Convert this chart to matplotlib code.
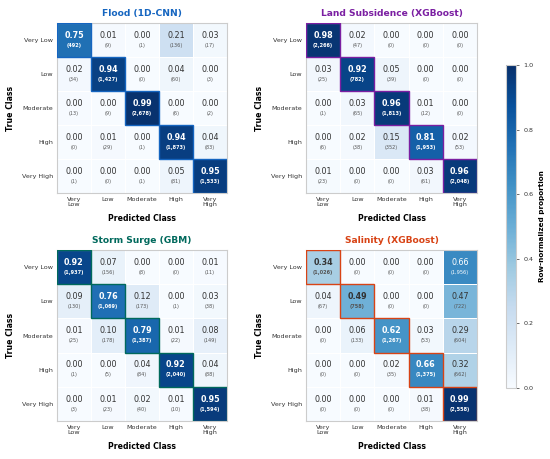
import numpy as np
import matplotlib
matplotlib.use("Agg")
import matplotlib.pyplot as plt
from matplotlib.patches import Rectangle

classes_y = ["Very Low", "Low", "Moderate", "High", "Very High"]
classes_x = ["Very\nLow", "Low", "Moderate", "High", "Very\nHigh"]

flood_counts = [[492, 9, 1, 136, 17],
                [34, 1427, 0, 60, 3],
                [13, 9, 2678, 6, 2],
                [0, 29, 1, 1873, 83],
                [1, 0, 1, 81, 1533]]
subsidence_counts = [[2266, 47, 0, 0, 0],
                     [25, 782, 39, 0, 0],
                     [1, 65, 1813, 12, 0],
                     [6, 38, 352, 1953, 53],
                     [23, 0, 0, 61, 2048]]
surge_counts = [[1937, 156, 8, 0, 11],
                [130, 1069, 173, 1, 38],
                [25, 178, 1387, 22, 149],
                [1, 5, 84, 2040, 88],
                [3, 23, 40, 10, 1594]]
salinity_counts = [[1026, 0, 0, 0, 1956],
                   [67, 758, 0, 0, 722],
                   [0, 133, 1267, 53, 604],
                   [0, 0, 35, 1375, 662],
                   [0, 0, 0, 38, 2558]]

titles = ["Flood (1D-CNN)", "Land Subsidence (XGBoost)",
          "Storm Surge (GBM)", "Salinity (XGBoost)"]
title_colors = ["#1565C0", "#7B1FA2", "#00695C", "#D84315"]
all_counts = [flood_counts, subsidence_counts, surge_counts, salinity_counts]

W, H = 550, 459
fig = plt.figure(figsize=(W / 100, H / 100), dpi=100)

# panel positions in pixels: left, top, width, height
panels = [(57, 23, 170, 170), (306, 23, 171, 170),
          (57, 250, 170, 171), (306, 250, 171, 171)]

cmap = plt.get_cmap("Blues")


def draw_cm(ax, counts, title, tcolor):
    counts = np.array(counts, dtype=float)
    props = counts / counts.sum(axis=1, keepdims=True)
    n = len(counts)
    im = ax.pcolormesh(np.arange(n + 1), np.arange(n + 1), props, cmap=cmap,
                       vmin=0, vmax=1, edgecolor="white", linewidth=0.4)
    ax.set_xlim(0, n)
    ax.set_ylim(n, 0)
    for i in range(n):
        for j in range(n):
            v = props[i, j]
            diag = i == j
            if v > 0.5:
                c1 = c2 = "white"
            else:
                c1, c2 = "#333333", "#555555"
            ax.text(j + 0.5, i + 0.36, f"{v:.2f}", ha="center", va="center",
                    fontsize=5.8, color=c1,
                    fontweight="bold" if diag else "normal")
            ax.text(j + 0.5, i + 0.65, f"({int(counts[i, j]):,})", ha="center",
                    va="center", fontsize=3.6, color=c2,
                    fontweight="bold" if diag else "normal")
        ax.add_patch(Rectangle((i, i), 1, 1, fill=False, edgecolor=tcolor,
                               linewidth=1.0, zorder=5))
    ax.set_xticks(np.arange(n) + 0.5)
    ax.set_yticks(np.arange(n) + 0.5)
    ax.set_xticklabels(classes_x, fontsize=4.6, color="#333333", linespacing=0.9)
    ax.set_yticklabels(classes_y, fontsize=4.6, color="#333333")
    ax.tick_params(length=0, pad=3)
    for s in ax.spines.values():
        s.set_color("#cccccc")
        s.set_linewidth(0.8)
    ax.set_title(title, fontsize=6.6, fontweight="bold", color=tcolor, pad=5)
    ax.set_xlabel("Predicted Class", fontsize=5.6, fontweight="bold", labelpad=5)
    ax.set_ylabel("True Class", fontsize=5.6, fontweight="bold", labelpad=5)
    return im


for (l, t, w, h), counts, title, tc in zip(panels, all_counts, titles, title_colors):
    ax = fig.add_axes([l / W, 1 - (t + h) / H, w / W, h / H])
    im = draw_cm(ax, counts, title, tc)

cax = fig.add_axes([506 / W, 1 - 388 / H, 10 / W, 323 / H])
cb = fig.colorbar(im, cax=cax)
cb.set_ticks([0, 0.2, 0.4, 0.6, 0.8, 1.0])
cb.ax.tick_params(labelsize=4.6, length=2, width=0.5, colors="#333333")
cb.outline.set_edgecolor("#cccccc")
cb.outline.set_linewidth(0.8)
cb.set_label("Row-normalized proportion", fontsize=5.2, fontweight="bold",
             rotation=90, labelpad=4)

fig.savefig("out.png", dpi=100)
